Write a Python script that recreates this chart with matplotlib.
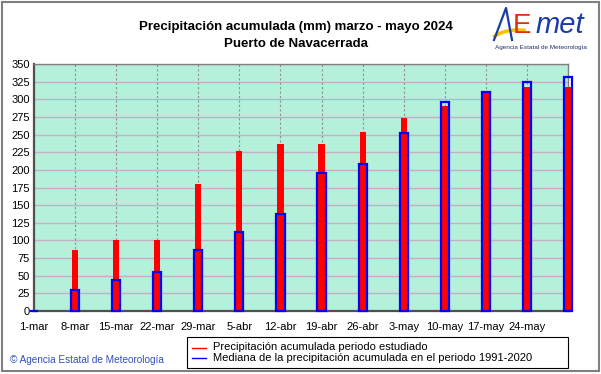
import numpy as np
import matplotlib
matplotlib.use("Agg")
import matplotlib.pyplot as plt
from matplotlib.patches import Rectangle, Arc
from matplotlib.lines import Line2D

plt.rcParams['font.family'] = ['Liberation Sans', 'DejaVu Sans']

# data
fechas = ['1-mar', '8-mar', '15-mar', '22-mar', '29-mar', '5-abr', '12-abr',
          '19-abr', '26-abr', '3-may', '10-may', '17-may', '24-may', '31-may']
labels = fechas[:-1] + ['']
precip = [0, 87, 100, 100, 180, 227, 237, 237, 253, 273, 290, 309, 317, 317]
mediana = [0, 30, 44, 55, 86, 112, 138, 196, 208, 252, 296, 311, 324, 331]
leyenda = ['Precipitación acumulada periodo estudiado',
           'Mediana de la precipitación acumulada en el periodo 1991-2020']

x = np.arange(len(fechas))

W, H = 601, 374
fig = plt.figure(figsize=(6.01, 3.74), dpi=100)
ax = fig.add_axes([34/W, 63/H, 534/W, 247/H])
ax.set_facecolor('#b4f0da')

# grid
for v in range(25, 351, 25):
    ax.axhline(v, color='#c8acc8', lw=1.0, zorder=1)
for xi in x[1:]:
    ax.axvline(xi, color='#909090', lw=0.8, ls=(0, (2, 2)), zorder=1)

ax.bar(x, precip, width=0.15, color='#ff0000', zorder=3, clip_on=False)
ax.bar(x, mediana, width=0.2, facecolor='none', edgecolor='#0000ff',
       lw=1.6, zorder=4, clip_on=False)

ax.set_xlim(0, 13)
ax.set_ylim(0, 350)
ax.set_yticks(range(0, 351, 25))
ax.set_xticks(x)
ax.set_xticklabels(labels)
ax.tick_params(length=0, labelsize=8)
ax.tick_params(axis='x', pad=8)
ax.tick_params(axis='y', pad=3)
for s in ['left', 'bottom']:
    ax.spines[s].set_color('#505050')
    ax.spines[s].set_linewidth(1.6)
for s in ['top', 'right']:
    ax.spines[s].set_color('#808080')
    ax.spines[s].set_linewidth(1.0)

# titles
fig.text(296/W, 1 - 27/H, 'Precipitación acumulada (mm) marzo - mayo 2024',
         ha='center', va='center', fontsize=9.5, fontweight='bold')
fig.text(296/W, 1 - 44/H, 'Puerto de Navacerrada',
         ha='center', va='center', fontsize=9.5, fontweight='bold')

# logo
logo_ax = fig.add_axes([488/W, 1 - 44/H, 106/W, 38/H])
logo_ax.axis('off')
logo_ax.set_xlim(0, 106)
logo_ax.set_ylim(38, 0)
logo_ax.plot([6, 18, 24], [34, 2, 34], color='#1a3ca8', lw=1.6)
logo_ax.add_patch(Arc((30, 38), 56, 28, theta1=195, theta2=300,
                      color='#f5c400', lw=2.6))
logo_ax.text(34, 20, 'E', ha='center', va='center', fontsize=20,
             color='#e03010')
logo_ax.text(72, 19, 'met', ha='center', va='center', fontsize=21,
             color='#1a3ca8', style='italic')
fig.text(541/W, 1 - 48/H, 'Agencia Estatal de Meteorología', ha='center',
         va='center', fontsize=4.6, color='#203070')

# copyright
fig.text(10/W, 1 - 360/H, '© Agencia Estatal de Meteorología', ha='left',
         va='center', fontsize=7.2, color='#3050c0')

# legend box
fig.patches.append(Rectangle((187/W, 1 - 368/H), 381/W, 31/H,
                             transform=fig.transFigure, fill=False,
                             edgecolor='#000000', lw=0.8))
for i, (txt, col) in enumerate(zip(leyenda, ['#ff0000', '#0000ff'])):
    yy = 1 - (347.5 + 10.5 * i)/H
    fig.lines.append(Line2D([192/W, 206/W], [yy, yy], color=col, lw=1,
                            transform=fig.transFigure))
    fig.text(213/W, yy, txt, ha='left', va='center', fontsize=8)

# outer frame
fig.patches.append(Rectangle((0.003, 0.008), 0.994, 0.987, transform=fig.transFigure,
                             fill=False, edgecolor='#808080', lw=1.5))

fig.savefig('out.png', dpi=100)
